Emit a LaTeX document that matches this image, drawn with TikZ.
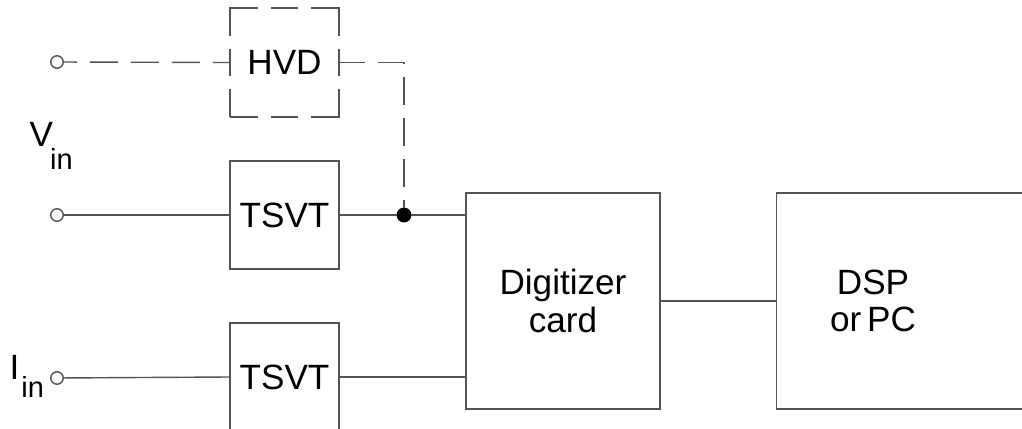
\documentclass[tikz,border=0pt]{standalone}
\usepackage{fontspec}
\setmainfont{Liberation Sans}
\usetikzlibrary{positioning}

\definecolor{wirec}{gray}{0.33}

\begin{document}
\begin{tikzpicture}[x=0.02cm, y=-0.02cm, line width=0.8pt,
  wire/.style={draw=wirec},
  blk/.style={draw=wirec, fill=white, inner sep=0pt, font=\fontsize{20}{21.5}\selectfont, align=center},
  dsh/.style={dash pattern=on 0.56cm off 0.26cm},
  dshbox/.style={dash pattern=on 0.56cm off 0.26cm on 1.10cm off 0.26cm, dash phase=1.37cm},
  term/.style={circle, draw=wirec, fill=white, inner sep=0pt, minimum size=0.25cm},
  dot/.style={circle, fill=black, draw=black, inner sep=0pt, minimum size=0.27cm}]

\useasboundingbox (0,0) rectangle (1022,429);
\clip (0,0) rectangle (1022,429);

% blocks
\node[blk, dshbox, minimum width=2.18cm, minimum height=2.18cm] (hvd) at (284.5,62.5) {HVD};
\node[blk, minimum width=2.18cm, minimum height=2.16cm] (tsvtv) at (284.5,215) {TSVT};
\node[blk, minimum width=2.18cm, minimum height=2.16cm] (tsvti) at (284.5,377) {TSVT};
\node[blk, minimum width=3.88cm, minimum height=4.32cm] (dig) at (563,301) {Digitizer\\card};
\node[blk, minimum width=5.3cm, minimum height=4.32cm] (dsp) at (909,301) {};
\node[blk, draw=none, fill=none] (dspt) at (873,301) {DSP\\or\,PC};

% input terminals
\node[term] (th) at (57,62) {};
\node[term] (tv) at (57,215) {};
\node[term] (ti) at (57,378) {};

% labels
\node[anchor=base west, inner sep=0pt, font=\fontsize{20}{21.5}\selectfont] (vin) at (29,147)
  {V\kern-0.06cm\raisebox{-0.46cm}{\fontsize{16.5}{16.5}\selectfont in}};
\node[anchor=base west, inner sep=0pt, font=\fontsize{20}{21.5}\selectfont] (iin) at (9,379)
  {I\kern0.04cm\raisebox{-0.38cm}{\fontsize{16.5}{16.5}\selectfont in}};

% junction
\node[dot] (j) at (404,215) {};

% wires
\draw[wire] (tv) -- (tsvtv.west);
\draw[wire] (tsvtv.east) -- (j) -- (j -| dig.west);
\draw[wire] (ti) -- (tsvti.west);
\draw[wire] (tsvti.east) -- (tsvti.east -| dig.west);
\draw[wire] (dig.east) -- (dsp.west);

% optional divider path
\draw[wire, dsh, dash phase=0.3cm] (th) -- (hvd.west);
\draw[wire, dsh, dash phase=0.06cm] (hvd.east) -| (j);

\end{tikzpicture}
\end{document}
